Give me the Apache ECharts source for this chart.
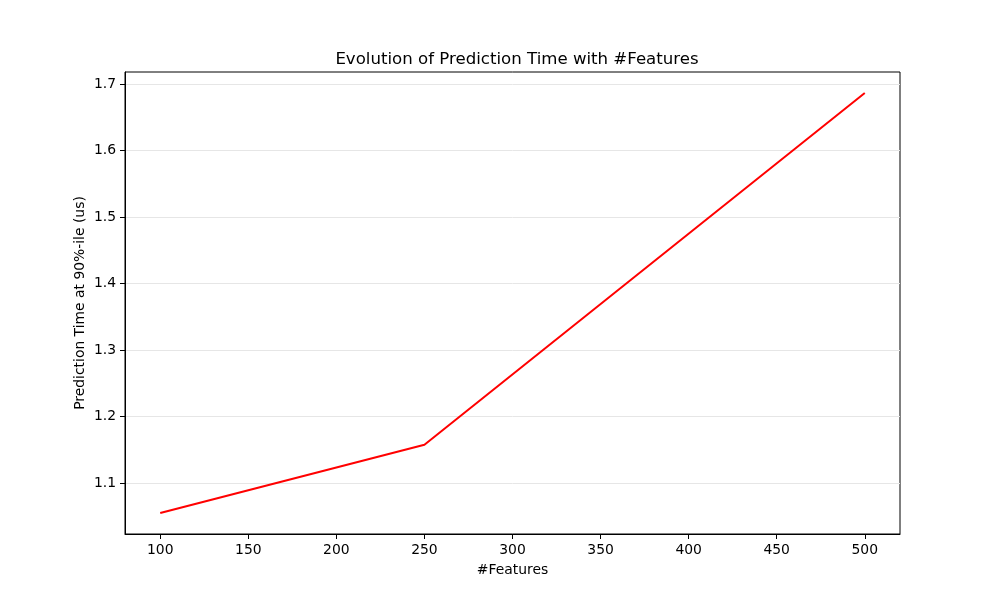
<!DOCTYPE html>
<html>
<head>
<meta charset="utf-8">
<script src="https://cdn.jsdelivr.net/npm/echarts@6/dist/echarts.min.js"></script>
<style>html,body{margin:0;padding:0;background:#fff}#c{width:1000px;height:600px}</style>
</head>
<body>
<div id="c"></div>
<script>
const features = [100, 250, 500];
const predTime = [1.0549, 1.1575, 1.6865];
const xTicks = [100, 150, 200, 250, 300, 350, 400, 450, 500];
const yTicks = [1.1, 1.2, 1.3, 1.4, 1.5, 1.6, 1.7];

const font = 'DejaVu Sans';
const chart = echarts.init(document.getElementById('c'), null, {renderer: 'canvas'});
chart.setOption({
  animation: false,
  backgroundColor: '#fff',
  title: {
    text: 'Evolution of Prediction Time with #Features',
    left: 512, top: 46, textAlign: 'center',
    textStyle: {fontFamily: font, fontSize: 16.6, fontWeight: 'normal', color: '#000'}
  },
  grid: {left: 125, right: 100, top: 72, bottom: 66, show: true, borderColor: '#000', borderWidth: 1, backgroundColor: 'transparent'},
  xAxis: {
    type: 'value', min: 80, max: 520,
    name: '#Features', nameLocation: 'middle', nameGap: 29, nameMoveOverlap: false,
    nameTextStyle: {fontFamily: font, fontSize: 13.9, color: '#000'},
    axisLine: {show: true, lineStyle: {color: '#000', width: 1}},
    axisTick: {show: true, length: 5, lineStyle: {color: '#000'}, customValues: xTicks},
    axisLabel: {fontFamily: font, fontSize: 13.9, color: '#000', margin: 9, customValues: xTicks},
    splitLine: {show: false}
  },
  yAxis: {
    type: 'value', min: 1.0233, max: 1.718,
    name: 'Prediction Time at 90%-ile (us)', nameLocation: 'middle', nameGap: 38, nameMoveOverlap: false,
    nameTextStyle: {fontFamily: font, fontSize: 13.9, color: '#000'},
    axisLine: {show: true, lineStyle: {color: '#000', width: 1}},
    axisTick: {show: true, length: 5, lineStyle: {color: '#000'}, customValues: yTicks},
    axisLabel: {fontFamily: font, fontSize: 13.9, color: '#000', margin: 9, customValues: yTicks, formatter: v => v.toFixed(1)},
    splitLine: {show: true, lineStyle: {color: '#e6e6e6', width: 1}}
  },
  series: [{
    type: 'line',
    data: features.map((f, i) => [f, predTime[i]]),
    showSymbol: false, symbol: 'none',
    lineStyle: {color: '#ff0000', width: 2},
    itemStyle: {color: '#ff0000'}
  }]
});
</script>
</body>
</html>
